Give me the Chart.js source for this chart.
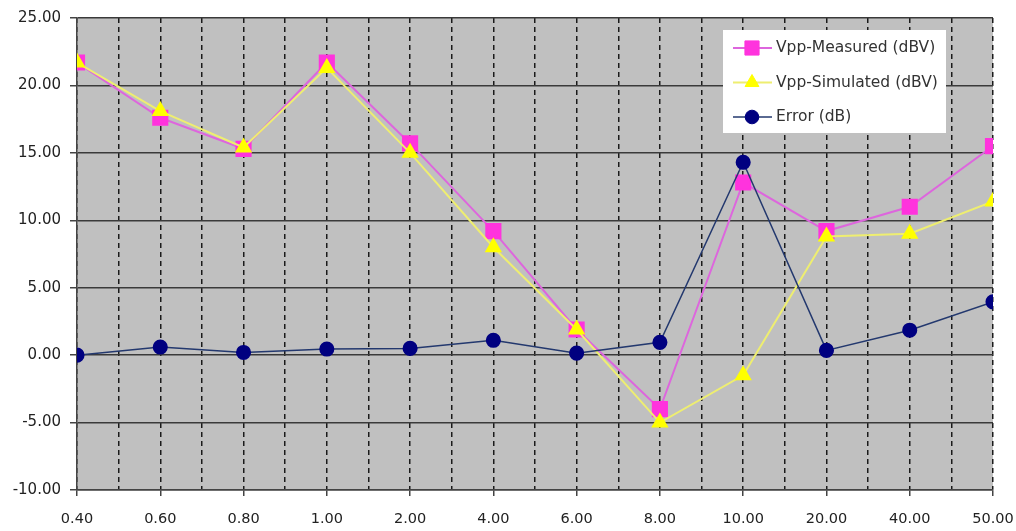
<!DOCTYPE html>
<html>
<head>
<meta charset="utf-8">
<script src="https://cdn.jsdelivr.net/npm/chart.js@4.4.0/dist/chart.umd.min.js"></script>
<style>
  html, body { margin: 0; padding: 0; background: #fff; }
  canvas { display: block; }
</style>
</head>
<body>
<canvas id="grafico" width="1016" height="531"></canvas>
<script>
const categories = ["0.40", "0.60", "0.80", "1.00", "2.00", "4.00", "6.00", "8.00", "10.00", "20.00", "40.00", "50.00"];
const measured = [21.7, 17.6, 15.3, 21.7, 15.7, 9.2, 1.9, -4.0, 12.8, 9.2, 11.0, 15.5];
const simulated = [21.7, 18.1, 15.4, 21.3, 15.0, 8.0, 1.9, -5.0, -1.5, 8.8, 9.0, 11.4];
const error = [0.0, 0.6, 0.2, 0.45, 0.5, 1.1, 0.15, 0.95, 14.3, 0.35, 1.85, 3.95];
const seriesNames = ["Vpp-Measured (dBV)", "Vpp-Simulated (dBV)", "Error (dB)"];
const yMin = -10, yMax = 25, yStep = 5;

const FONT = "DejaVu Sans";

const toPoints = (arr) => arr.map((v, i) => ({ x: i, y: v }));

// legend drawn inside the plot, like the Excel one
const boxLegend = {
  id: "boxLegend",
  afterDraw(chart) {
    const ctx = chart.ctx;
    ctx.save();
    ctx.fillStyle = "#ffffff";
    ctx.fillRect(723, 30, 223, 103);
    chart.data.datasets.forEach((ds, i) => {
      const cy = 48 + i * 34.5;
      ctx.strokeStyle = ds.borderColor;
      ctx.lineWidth = ds.borderWidth;
      ctx.beginPath();
      ctx.moveTo(733, cy);
      ctx.lineTo(772, cy);
      ctx.stroke();
      ctx.fillStyle = ds.pointBackgroundColor;
      ctx.strokeStyle = ds.pointBorderColor;
      ctx.lineWidth = 1;
      Chart.helpers.drawPoint(ctx, { pointStyle: ds.pointStyle, radius: ds.pointRadius, borderWidth: 1, rotation: 0 }, 752, cy);
      ctx.fillStyle = "#333";
      ctx.font = "15.5px '" + FONT + "'";
      ctx.textBaseline = "middle";
      ctx.fillText(ds.label, 776, cy);
    });
    ctx.restore();
  },
};

// grey plot background
const plotBg = {
  id: "plotBg",
  beforeDraw(chart) {
    const a = chart.chartArea;
    chart.ctx.save();
    chart.ctx.fillStyle = "#c0c0c0";
    chart.ctx.fillRect(a.left, a.top, a.right - a.left, a.bottom - a.top);
    chart.ctx.restore();
  },
};

new Chart(document.getElementById("grafico"), {
  type: "line",
  data: {
    datasets: [
      {
        label: seriesNames[0],
        data: toPoints(measured),
        borderColor: "#dd66dd",
        borderWidth: 2,
        pointStyle: "rect",
        pointRadius: 10,
        pointBackgroundColor: "#ff33dd",
        pointBorderColor: "#ff33dd",
        order: 3,
      },
      {
        label: seriesNames[1],
        data: toPoints(simulated),
        borderColor: "#eeee70",
        borderWidth: 2,
        pointStyle: "triangle",
        pointRadius: 8,
        pointBackgroundColor: "#ffff00",
        pointBorderColor: "#ffff00",
        order: 2,
      },
      {
        label: seriesNames[2],
        data: toPoints(error),
        borderColor: "#23386e",
        borderWidth: 1.5,
        pointStyle: "circle",
        pointRadius: 6.8,
        pointBackgroundColor: "#000080",
        pointBorderColor: "#000080",
        order: 1,
      },
    ],
  },
  options: {
    responsive: false,
    animation: false,
    devicePixelRatio: 1,
    layout: { padding: { top: 17, right: 23, bottom: 0, left: 0 } },
    plugins: {
      legend: { display: false },
      tooltip: { enabled: false },
    },
    scales: {
      x: {
        type: "linear",
        min: 0,
        max: categories.length - 1,
        afterFit: (scale) => {
          scale.height = 41;
          scale.paddingLeft = 0;
          scale.paddingRight = 0;
        },
        afterBuildTicks: (scale) => {
          const t = [];
          for (let i = 0; i <= (categories.length - 1) * 2; i++) t.push({ value: i / 2 });
          scale.ticks = t;
        },
        ticks: {
          autoSkip: false,
          maxRotation: 0,
          padding: 15,
          color: "#222",
          font: { family: FONT, size: 14.5 },
          callback: (v) => (Number.isInteger(v) ? categories[v] : ""),
        },
        grid: {
          color: "#1a1a1a",
          lineWidth: 1.5,
          tickLength: 6,
          tickColor: "#444",
          tickWidth: (c) => (c.tick && Number.isInteger(c.tick.value) ? 1.5 : 0),
        },
        border: { display: true, color: "#444", width: 1.5, dash: [5, 4] },
      },
      y: {
        min: yMin,
        max: yMax,
        afterFit: (scale) => { scale.width = 77; },
        ticks: {
          stepSize: yStep,
          padding: 9,
          color: "#222",
          font: { family: FONT, size: 15 },
          callback: (v) => v.toFixed(2),
        },
        grid: {
          color: "#3a3a3a",
          lineWidth: 1.5,
          tickLength: 7,
          tickColor: "#444",
        },
        border: { display: true, color: "#444", width: 1.5 },
      },
    },
  },
  plugins: [plotBg, boxLegend],
});
</script>
</body>
</html>
